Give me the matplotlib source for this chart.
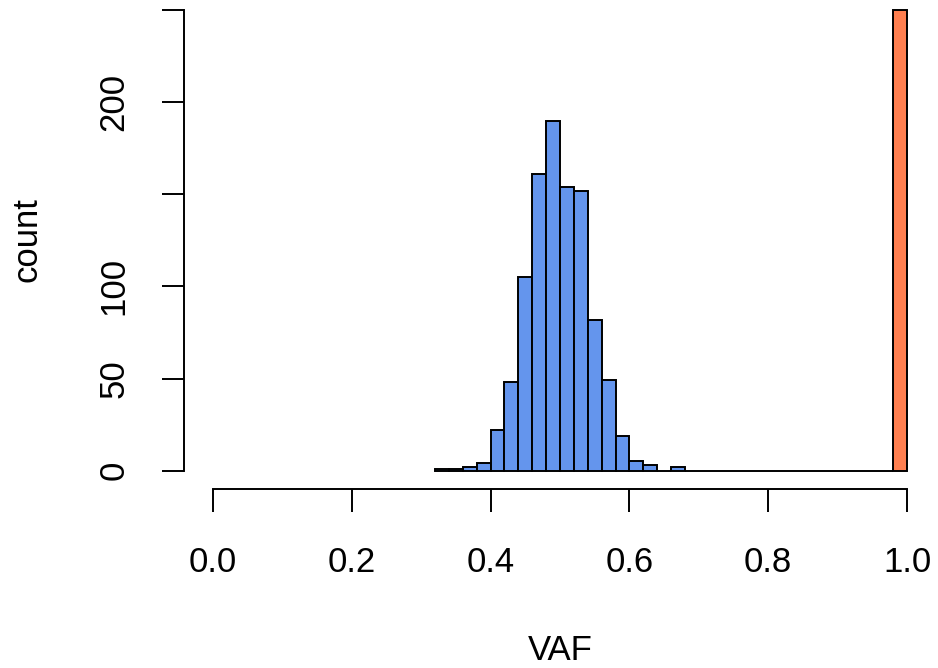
"""Histogram of VAF with the clonal bin highlighted, in base-R look."""

import matplotlib
matplotlib.use("Agg")
import matplotlib.pyplot as plt
import numpy as np

plt.rcParams['font.family'] = ['Liberation Sans', 'DejaVu Sans']

# Histogram counts, bins of width 0.02 starting at 0.32
bin_start = 0.32
bin_width = 0.02
counts = np.array([1, 1, 2, 4, 22, 48, 105, 161, 190, 154, 152, 82, 49, 19, 5, 3, 0, 2,
                   0, 0, 0, 0, 0, 0, 0, 0, 0, 0, 0, 0, 0, 0, 0,
                   250])
x_ticks = [0.0, 0.2, 0.4, 0.6, 0.8, 1.0]
x_labels = ["0.0", "0.2", "0.4", "0.6", "0.8", "1.0"]
y_ticks = [0, 50, 100, 150, 200, 250]
y_labels = ["0", "50", "100", "", "200", ""]

lefts = bin_start + bin_width * np.arange(len(counts))
colors = ["#6495ED"] * len(counts)
colors[-1] = "#FF7F50"  # last bin (near 1.0) in coral

W, H = 938, 668
fig = plt.figure(figsize=(W / 100, H / 100), dpi=100)

# axes box in pixels: y axis line at x=184, x axis line at y=489
left_px, right_px = 184.3, 930
bottom_px, top_px = 489.3, 4
ax = fig.add_axes([left_px / W, 1 - bottom_px / H,
                   (right_px - left_px) / W, (bottom_px - top_px) / H])

# data-to-pixel mapping
x0_px, x1_px = 213, 907
y0_px, y250_px = 470.7, 10
sx = (x1_px - x0_px)
sy = (y0_px - y250_px) / 250
ax.set_xlim((left_px - x0_px) / sx, (right_px - x0_px) / sx)
ax.set_ylim((y0_px - bottom_px) / sy, (y0_px - top_px) / sy)

ax.bar(lefts, counts, width=bin_width, align='edge', color=colors,
       edgecolor='black', linewidth=1.4, clip_on=False)

for s in ['top', 'right']:
    ax.spines[s].set_visible(False)
ax.spines['left'].set_bounds(0, 250)
ax.spines['bottom'].set_bounds(0, 1)
ax.spines['left'].set_linewidth(1.4)
ax.spines['bottom'].set_linewidth(1.4)

ax.set_xticks(x_ticks)
ax.set_xticklabels(x_labels, fontsize=25)
ax.set_yticks(y_ticks)
ax.set_yticklabels(y_labels, fontsize=25, rotation=90, va='center')
ax.tick_params(axis='x', length=16.5, width=1.4, pad=24)
ax.tick_params(axis='y', length=16, width=1.4, pad=23)

fig.text(27.5 / W, 1 - 240 / H, "count", rotation=90, fontsize=25,
         ha='center', va='center')
fig.text(560 / W, 1 - 650 / H, "VAF", fontsize=25, ha='center', va='center')

fig.savefig("out.png", dpi=100)
